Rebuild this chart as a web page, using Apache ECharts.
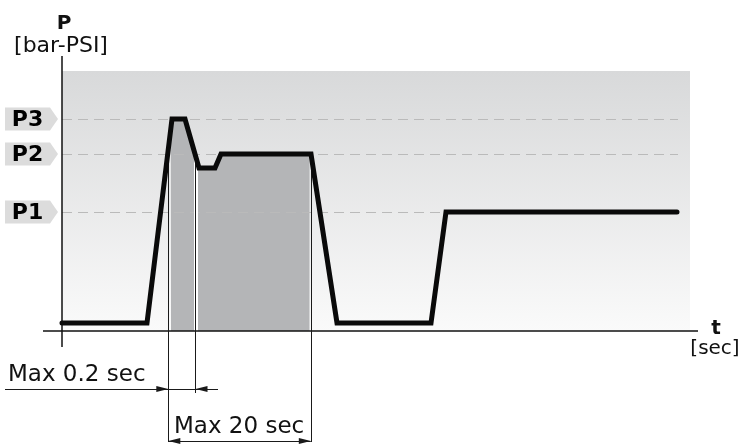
<!DOCTYPE html>
<html>
<head>
<meta charset="utf-8">
<script src="https://cdn.jsdelivr.net/npm/echarts@6/dist/echarts.min.js"></script>
<style>
  html, body { margin: 0; padding: 0; background: #fff; }
  #chart { width: 744px; height: 444px; }
</style>
</head>
<body>
<div id="chart"></div>
<script>
// pressure profile (t in sec units of the sketch, P in bar units of the sketch)
const curveT = [0, 8.5, 11.0, 12.3, 13.7, 15.3, 15.9, 24.9, 27.5, 36.9, 38.4, 61.5];
const curveP = [0.8, 0.8, 21.2, 21.2, 16.3, 16.3, 17.7, 17.7, 0.8, 0.8, 11.9, 11.9];

// shaded window under the curve
const fillT = [10.9, 11.0, 12.3, 13.7, 15.3, 15.9, 24.75];
const fillP = [19.6, 21.2, 21.2, 16.3, 16.3, 17.7, 17.7];

// reference levels
const levelNames = ["P1", "P2", "P3"];
const levelValues = [11.9, 17.7, 21.2];
const levelEnd = 61.6;
const tagT = -3.05;

// time markers: start of window, 0.2 sec point, end of window
const markT = [10.63, 13.35, 24.88];
const markTop = [18.0, 17.4, 17.7];
const markBottom = [-11.1, -6.2, -11.1];

// dimension lines
const shortDimP = -5.8;
const shortDimFrom = -5.7;
const shortDimTo = 15.6;
const longDimP = -11.0;

// axis extents (drawn crossing at 0,0)
const tAxisRange = [-1.9, 63.6];
const pAxisRange = [-1.6, 27.5];

// background panel
const panelT = [0, 62.8];
const panelP = [0, 26.0];

const FONT = '"DejaVu Sans", Verdana, sans-serif';
const chart = echarts.init(document.getElementById("chart"));

const arrowEnd = { symbol: "triangle", symbolSize: [6, 12], symbolOffset: [0, 6] };

const option = {
  animation: false,
  grid: { left: 0, right: 0, top: 0, bottom: 0 },
  xAxis: { type: "value", min: -6.2, max: 68.2, show: false },
  yAxis: { type: "value", min: -11.3, max: 33.1, show: false },
  series: [
    {
      // gray gradient panel
      name: "panel",
      type: "line",
      z: 1,
      data: [],
      symbol: "none",
      silent: true,
      markArea: {
        silent: true,
        itemStyle: {
          opacity: 1,
          color: new echarts.graphic.LinearGradient(0, 0, 0, 1, [
            { offset: 0, color: "#d8d9da" },
            { offset: 1, color: "#fafafa" },
          ]),
        },
        data: [[{ coord: [panelT[0], panelP[0]] }, { coord: [panelT[1], panelP[1]] }]],
      },
    },
    {
      // dashed levels + P tags
      name: "levels",
      type: "line",
      z: 2,
      clip: false,
      data: [],
      symbol: "none",
      markLine: {
        silent: true,
        symbol: "none",
        label: { show: false },
        lineStyle: { color: "#bababa", width: 1.2, type: [10, 6] },
        data: levelValues.map((v) => [{ coord: [0, v] }, { coord: [levelEnd, v] }]),
      },
      markPoint: {
        silent: true,
        symbol: "path://M0 0H45L53 11.5L45 23H0Z",
        symbolSize: [53, 23],
        itemStyle: { color: "#dcdcdc" },
        label: {
          show: true,
          position: "inside",
          offset: [-4, 1],
          color: "#000",
          fontFamily: FONT,
          fontWeight: "bold",
          fontSize: 22,
          formatter: (p) => p.name,
        },
        data: levelValues.map((v, i) => ({ name: levelNames[i], coord: [tagT, v] })),
      },
    },
    {
      name: "window",
      type: "line",
      z: 3,
      data: fillT.map((t, i) => [t, fillP[i]]),
      symbol: "none",
      lineStyle: { width: 0 },
      areaStyle: { color: "#b4b5b7", opacity: 1 },
      silent: true,
    },
    {
      // white gap at the 0.2 sec point
      name: "gap",
      type: "line",
      z: 4,
      data: [],
      symbol: "none",
      markLine: {
        silent: true,
        symbol: "none",
        label: { show: false },
        lineStyle: { color: "#ffffff", width: 4, type: "solid" },
        data: [[{ coord: [markT[1], markTop[1]] }, { coord: [markT[1], 0] }]],
      },
    },
    {
      // axes
      name: "axes",
      type: "line",
      z: 4,
      data: [],
      symbol: "none",
      markLine: {
        silent: true,
        symbol: "none",
        label: { show: false },
        lineStyle: { color: "#111", width: 1.5, type: "solid" },
        data: [
          [{ coord: [tAxisRange[0], 0] }, { coord: [tAxisRange[1], 0] }],
          [{ coord: [0, pAxisRange[0]] }, { coord: [0, pAxisRange[1]] }],
        ],
      },
    },
    {
      name: "pressure",
      type: "line",
      z: 5,
      data: curveT.map((t, i) => [t, curveP[i]]),
      symbol: "none",
      lineStyle: { color: "#0a0a0a", width: 5, join: "miter", cap: "round" },
      silent: true,
    },
    {
      // marker lines and dimensions
      name: "dims",
      type: "line",
      z: 6,
      clip: false,
      data: [],
      symbol: "none",
      markLine: {
        silent: true,
        symbol: "none",
        label: { show: false },
        lineStyle: { color: "#1a1a1a", width: 1, type: "solid" },
        data: [
          ...markT.map((t, i) => [{ coord: [t, markTop[i]] }, { coord: [t, markBottom[i]] }]),
          [{ coord: [shortDimFrom, shortDimP] }, { coord: [markT[0], shortDimP], ...arrowEnd }],
          [{ coord: [markT[0], shortDimP] }, { coord: [markT[1], shortDimP] }],
          [{ coord: [shortDimTo, shortDimP] }, { coord: [markT[1], shortDimP], ...arrowEnd }],
          [{ coord: [markT[0], longDimP], ...arrowEnd }, { coord: [markT[2], longDimP], ...arrowEnd }],
        ],
      },
    },
  ],
  graphic: [
    { type: "text", x: 64, y: 24, style: { text: "P", font: "bold 20px " + FONT, fill: "#111", align: "center", verticalAlign: "middle" } },
    { type: "text", x: 61, y: 46, style: { text: "[bar-PSI]", font: "22px " + FONT, fill: "#111", align: "center", verticalAlign: "middle" } },
    { type: "text", x: 716, y: 329, style: { text: "t", font: "bold 20px " + FONT, fill: "#111", align: "center", verticalAlign: "middle" } },
    { type: "text", x: 715, y: 349, style: { text: "[sec]", font: "20px " + FONT, fill: "#111", align: "center", verticalAlign: "middle" } },
    { type: "text", x: 8, y: 375, style: { text: "Max 0.2 sec", font: "23px " + FONT, fill: "#111", align: "left", verticalAlign: "middle" } },
    { type: "text", x: 174, y: 427, style: { text: "Max 20 sec", font: "23px " + FONT, fill: "#111", align: "left", verticalAlign: "middle" } },
  ],
};

chart.setOption(option);
</script>
</body>
</html>
